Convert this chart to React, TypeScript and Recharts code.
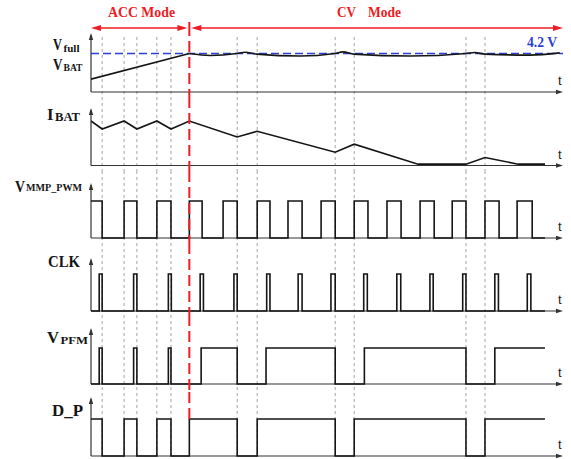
import React from "react";
import { LineChart, Line, XAxis, YAxis, ReferenceLine, ReferenceDot } from "recharts";

const W = 571;
const H = 459;
const LEFT = 91;
const RIGHT = 8;
const T_END = 14.4; // end of the time arrow, in PWM periods
const SIG_END = 13.85; // where the traces stop

// edge times, in PWM periods from the origin
const PWM_RISE = [0, 1.01, 2.01, 3.0, 4.03, 5.07, 6.01, 7.02, 8.03, 9.03, 10.04, 11.02, 12.02, 13.0];
const PWM_FALL = [0.34, 1.4, 2.44, 3.39, 4.46, 5.46, 6.44, 7.45, 8.45, 9.46, 10.47, 11.44, 12.45, 13.46];
const CLK_RISE = [0.25, 1.3, 2.36, 3.33, 4.36, 5.36, 6.32, 7.32, 8.32, 9.33, 10.34, 11.34, 12.32, 13.31];
const CLK_FALL = [0.34, 1.4, 2.45, 3.43, 4.46, 5.46, 6.44, 7.45, 8.43, 9.45, 10.44, 11.44, 12.43, 13.42];
const PFM_RISE = [0.25, 1.3, 2.36, 3.36, 5.34, 8.34, 12.32];
const PFM_FALL = [0.34, 1.4, 2.44, 4.46, 7.45, 11.44];
const DP_T = [0, 0.34, 1.01, 1.4, 2.01, 2.44, 3.0, 4.46, 5.07, 7.45, 8.03, 11.44, 12.02];
const DP_LEVEL = [1, 0, 1, 0, 1, 0, 1, 0, 1, 0, 1, 0, 1];

// battery voltage (V)
const V_FULL = 4.2;
const VBAT_ACC_T = [0, 3.0];
const VBAT_ACC = [3.8, 4.2];
const VBAT_CV_T = [3.0, 3.63, 4.45, 4.7, 5.06, 6.38, 7.44, 7.69, 8.02, 9.73, 11.44, 11.71, 12.02, 13.39, 14.3];
const VBAT_CV = [4.2, 4.17, 4.2, 4.22, 4.19, 4.16, 4.2, 4.225, 4.19, 4.16, 4.2, 4.215, 4.19, 4.175, 4.21];

// battery current (normalised)
const IBAT_T = [0, 0.34, 1.01, 1.4, 2.01, 2.44, 3.0, 4.46, 5.07, 7.45, 8.03, 9.98, 11.44, 12.02, 13.03, 13.85];
const IBAT = [1.0, 0.82, 1.0, 0.82, 1.0, 0.82, 1.0, 0.64, 0.77, 0.3, 0.48, 0.03, 0.03, 0.18, 0.03, 0.03];

// dashed guide lines and the ACC -> CV switch
const GUIDE_T = [0.34, 1.01, 1.4, 2.01, 2.44, 4.46, 5.07, 7.45, 8.03, 11.44, 12.02];
const MODE_SWITCH = 3.0;

const AXIS = "#333";
const INK = "#151515";
const GUIDE = "#8c8c8c";
const RED = "#ee1c24";
const BLUE = "#2b3fd8";
const SERIF = '"Liberation Serif", "Times New Roman", serif';

type Pt = { t: number; v: number };

const zip = (ts: number[], vs: number[]): Pt[] => ts.map((t, i) => ({ t, v: vs[i] }));

function pulses(rise: number[], fall: number[]): Pt[] {
  const pts: Pt[] = [];
  if (rise[0] > 0) pts.push({ t: 0, v: 0 });
  rise.forEach((r, i) => {
    pts.push({ t: r, v: 1 });
    if (fall[i] !== undefined) pts.push({ t: fall[i], v: 0 });
  });
  pts.push({ t: SIG_END, v: pts[pts.length - 1].v });
  return pts;
}

const dpData = [...zip(DP_T, DP_LEVEL), { t: SIG_END, v: DP_LEVEL[DP_LEVEL.length - 1] }];

// vertical layout of each strip (page pixels) and the value pinned to two of them
interface Layout {
  top: number;
  bottom: number;
  base: number;
  tip: number;
  zero: number;
  ref: number;
  refPx: number;
  guideTop?: number;
  guideBottom?: number;
  redTop?: number;
  redBottom?: number;
  axes?: boolean;
}

const val = (L: Layout, px: number) => L.zero + ((L.base - px) * (L.ref - L.zero)) / (L.base - L.refPx);

const head = (dir: "up" | "right" | "left", len: number, half: number, fill: string) => (p: any) => {
  const { cx, cy } = p;
  const d =
    dir === "up"
      ? `M${cx},${cy} L${cx - half},${cy + len} L${cx + half},${cy + len} Z`
      : dir === "right"
      ? `M${cx},${cy} L${cx - len},${cy - half} L${cx - len},${cy + half} Z`
      : `M${cx},${cy} L${cx + len},${cy - half} L${cx + len},${cy + half} Z`;
  return <path d={d} fill={fill} />;
};

function strip(key: string, L: Layout, content: React.ReactNode[]) {
  const lo = val(L, L.bottom);
  const hi = val(L, L.top);
  const gTop = val(L, L.guideTop ?? L.top);
  const gBot = val(L, L.guideBottom ?? L.bottom);
  const rTop = val(L, L.redTop ?? L.top);
  const rBot = val(L, L.redBottom ?? L.bottom);
  const items: React.ReactNode[] = [];
  if (L.axes !== false) {
    GUIDE_T.forEach((t) =>
      items.push(
        <ReferenceLine
          key={`g${t}`}
          segment={[{ x: t, y: gBot }, { x: t, y: gTop }]}
          stroke={GUIDE}
          strokeWidth={0.8}
          strokeDasharray="3 3"
          ifOverflow="visible"
        />
      )
    );
    items.push(
      <ReferenceLine key="ya" segment={[{ x: 0, y: L.zero }, { x: 0, y: val(L, L.tip + 2) }]} stroke={AXIS} strokeWidth={1.2} ifOverflow="visible" />,
      <ReferenceLine key="xa" segment={[{ x: 0, y: L.zero }, { x: T_END - 0.1, y: L.zero }]} stroke={AXIS} strokeWidth={1.2} ifOverflow="visible" />,
      <ReferenceDot key="yh" x={0} y={val(L, L.tip)} r={0} shape={head("up", 7, 2.2, AXIS)} ifOverflow="visible" />,
      <ReferenceDot key="xh" x={T_END} y={L.zero} r={0} shape={head("right", 7, 2.3, AXIS)} ifOverflow="visible" />
    );
  }
  items.push(...content);
  items.push(
    <ReferenceLine
      key="red"
      segment={[{ x: MODE_SWITCH, y: rBot }, { x: MODE_SWITCH, y: rTop }]}
      stroke={RED}
      strokeWidth={2}
      strokeDasharray="11 5"
      ifOverflow="visible"
    />
  );
  return (
    <div key={key} style={{ position: "absolute", left: 0, top: L.top }}>
      <LineChart width={W} height={L.bottom - L.top} margin={{ top: 0, right: RIGHT, bottom: 0, left: LEFT }}>
        <XAxis type="number" dataKey="t" domain={[0, T_END]} hide allowDataOverflow />
        <YAxis type="number" domain={[lo, hi]} hide allowDataOverflow />
        {items}
      </LineChart>
    </div>
  );
}

const trace = (key: string, data: Pt[], type: "stepAfter" | "linear" | "monotone" = "stepAfter") => (
  <Line
    key={key}
    data={data}
    dataKey="v"
    type={type}
    stroke={INK}
    strokeWidth={1.6}
    dot={false}
    activeDot={false}
    isAnimationActive={false}
  />
);

const HEADER: Layout = { top: 0, bottom: 33, base: 33, tip: 33, zero: 0, ref: 1, refPx: 0, redTop: 22, axes: false };
const VBAT_L: Layout = { top: 33, bottom: 100, base: 92, tip: 33, zero: 3.6, ref: V_FULL, refPx: 53.5, guideTop: 36 };
const IBAT_L: Layout = { top: 100, bottom: 172, base: 165.5, tip: 108, zero: 0, ref: 1, refPx: 121 };
const PWM_L: Layout = { top: 172, bottom: 246, base: 238, tip: 183, zero: 0, ref: 1, refPx: 201 };
const CLK_L: Layout = { top: 246, bottom: 318, base: 311, tip: 258, zero: 0, ref: 1, refPx: 274 };
const PFM_L: Layout = { top: 318, bottom: 390, base: 384, tip: 328, zero: 0, ref: 1, refPx: 348 };
const DP_L: Layout = { top: 390, bottom: 459, base: 456, tip: 397, zero: 0, ref: 1, refPx: 419, guideBottom: 456, redBottom: 419 };

const arrowY = val(HEADER, 28);

const Lbl = ({ x, y, size, len, children, fill = INK, weight = 700, family = SERIF }: any) => (
  <text
    x={x}
    y={y}
    fontSize={size}
    fontFamily={family}
    fontWeight={weight}
    fill={fill}
    textLength={len}
    lengthAdjust={len ? "spacingAndGlyphs" : undefined}
  >
    {children}
  </text>
);

export default function App() {
  return (
    <div style={{ position: "absolute", left: 0, top: 0, width: W, height: H, background: "#fff" }}>
      {strip("hdr", HEADER, [
        <ReferenceLine key="acc" segment={[{ x: 0.2, y: arrowY }, { x: 2.85, y: arrowY }]} stroke={RED} strokeWidth={1.5} ifOverflow="visible" />,
        <ReferenceDot key="accL" x={0} y={arrowY} r={0} shape={head("left", 10, 3, RED)} ifOverflow="visible" />,
        <ReferenceDot key="accR" x={2.94} y={arrowY} r={0} shape={head("right", 10, 3, RED)} ifOverflow="visible" />,
        <ReferenceLine key="cv" segment={[{ x: 3.15, y: arrowY }, { x: T_END - 0.2, y: arrowY }]} stroke={RED} strokeWidth={1.5} ifOverflow="visible" />,
        <ReferenceDot key="cvL" x={3.06} y={arrowY} r={0} shape={head("left", 10, 3, RED)} ifOverflow="visible" />,
        <ReferenceDot key="cvR" x={T_END} y={arrowY} r={0} shape={head("right", 10, 3, RED)} ifOverflow="visible" />,
      ])}
      {strip("vbat", VBAT_L, [
        <ReferenceLine
          key="vfull"
          segment={[{ x: 0, y: V_FULL }, { x: T_END, y: V_FULL }]}
          stroke={BLUE}
          strokeWidth={1.5}
          strokeDasharray="8 4"
          ifOverflow="visible"
        />,
        trace("acc", zip(VBAT_ACC_T, VBAT_ACC), "linear"),
        trace("cv", zip(VBAT_CV_T, VBAT_CV), "monotone"),
      ])}
      {strip("ibat", IBAT_L, [trace("ibat", zip(IBAT_T, IBAT), "linear")])}
      {strip("pwm", PWM_L, [trace("pwm", pulses(PWM_RISE, PWM_FALL))])}
      {strip("clk", CLK_L, [trace("clk", pulses(CLK_RISE, CLK_FALL))])}
      {strip("pfm", PFM_L, [trace("pfm", pulses(PFM_RISE, PFM_FALL))])}
      {strip("dp", DP_L, [trace("dp", dpData)])}

      <svg width={W} height={H} style={{ position: "absolute", left: 0, top: 0, pointerEvents: "none" }}>
        <Lbl x={108} y={17} size={14} len={67} fill={RED}>ACC Mode</Lbl>
        <Lbl x={337} y={17} size={14} len={19} fill={RED}>CV</Lbl>
        <Lbl x={368} y={17} size={14} len={33} fill={RED}>Mode</Lbl>
        <Lbl x={527} y={47} size={14.5} len={30} fill={BLUE}>4.2 V</Lbl>

        <Lbl x={53} y={50} size={16} len={9}>V</Lbl>
        <Lbl x={63.5} y={51.5} size={11} len={16}>full</Lbl>
        <Lbl x={53} y={69.5} size={16} len={9.5}>V</Lbl>
        <Lbl x={63.5} y={70.5} size={10.5} len={19}>BAT</Lbl>
        <Lbl x={47} y={120} size={16.5} len={6.5}>I</Lbl>
        <Lbl x={55} y={121} size={12.5} len={25}>BAT</Lbl>
        <Lbl x={15} y={192} size={16} len={10}>V</Lbl>
        <Lbl x={26} y={190.5} size={10} len={56}>MMP_PWM</Lbl>
        <Lbl x={48} y={267} size={17} len={32}>CLK</Lbl>
        <Lbl x={47} y={343.3} size={16} len={12}>V</Lbl>
        <Lbl x={60.5} y={343.5} size={10} len={27.5}>PFM</Lbl>
        <Lbl x={52} y={416} size={16.5} len={31}>D_P</Lbl>

        {[VBAT_L, IBAT_L, PWM_L, CLK_L, PFM_L, DP_L].map((L, i) => (
          <Lbl key={i} x={558} y={L.base - 7} size={13} weight={400} family='"Liberation Sans", Arial, sans-serif' fill="#222">
            t
          </Lbl>
        ))}
      </svg>
    </div>
  );
}
